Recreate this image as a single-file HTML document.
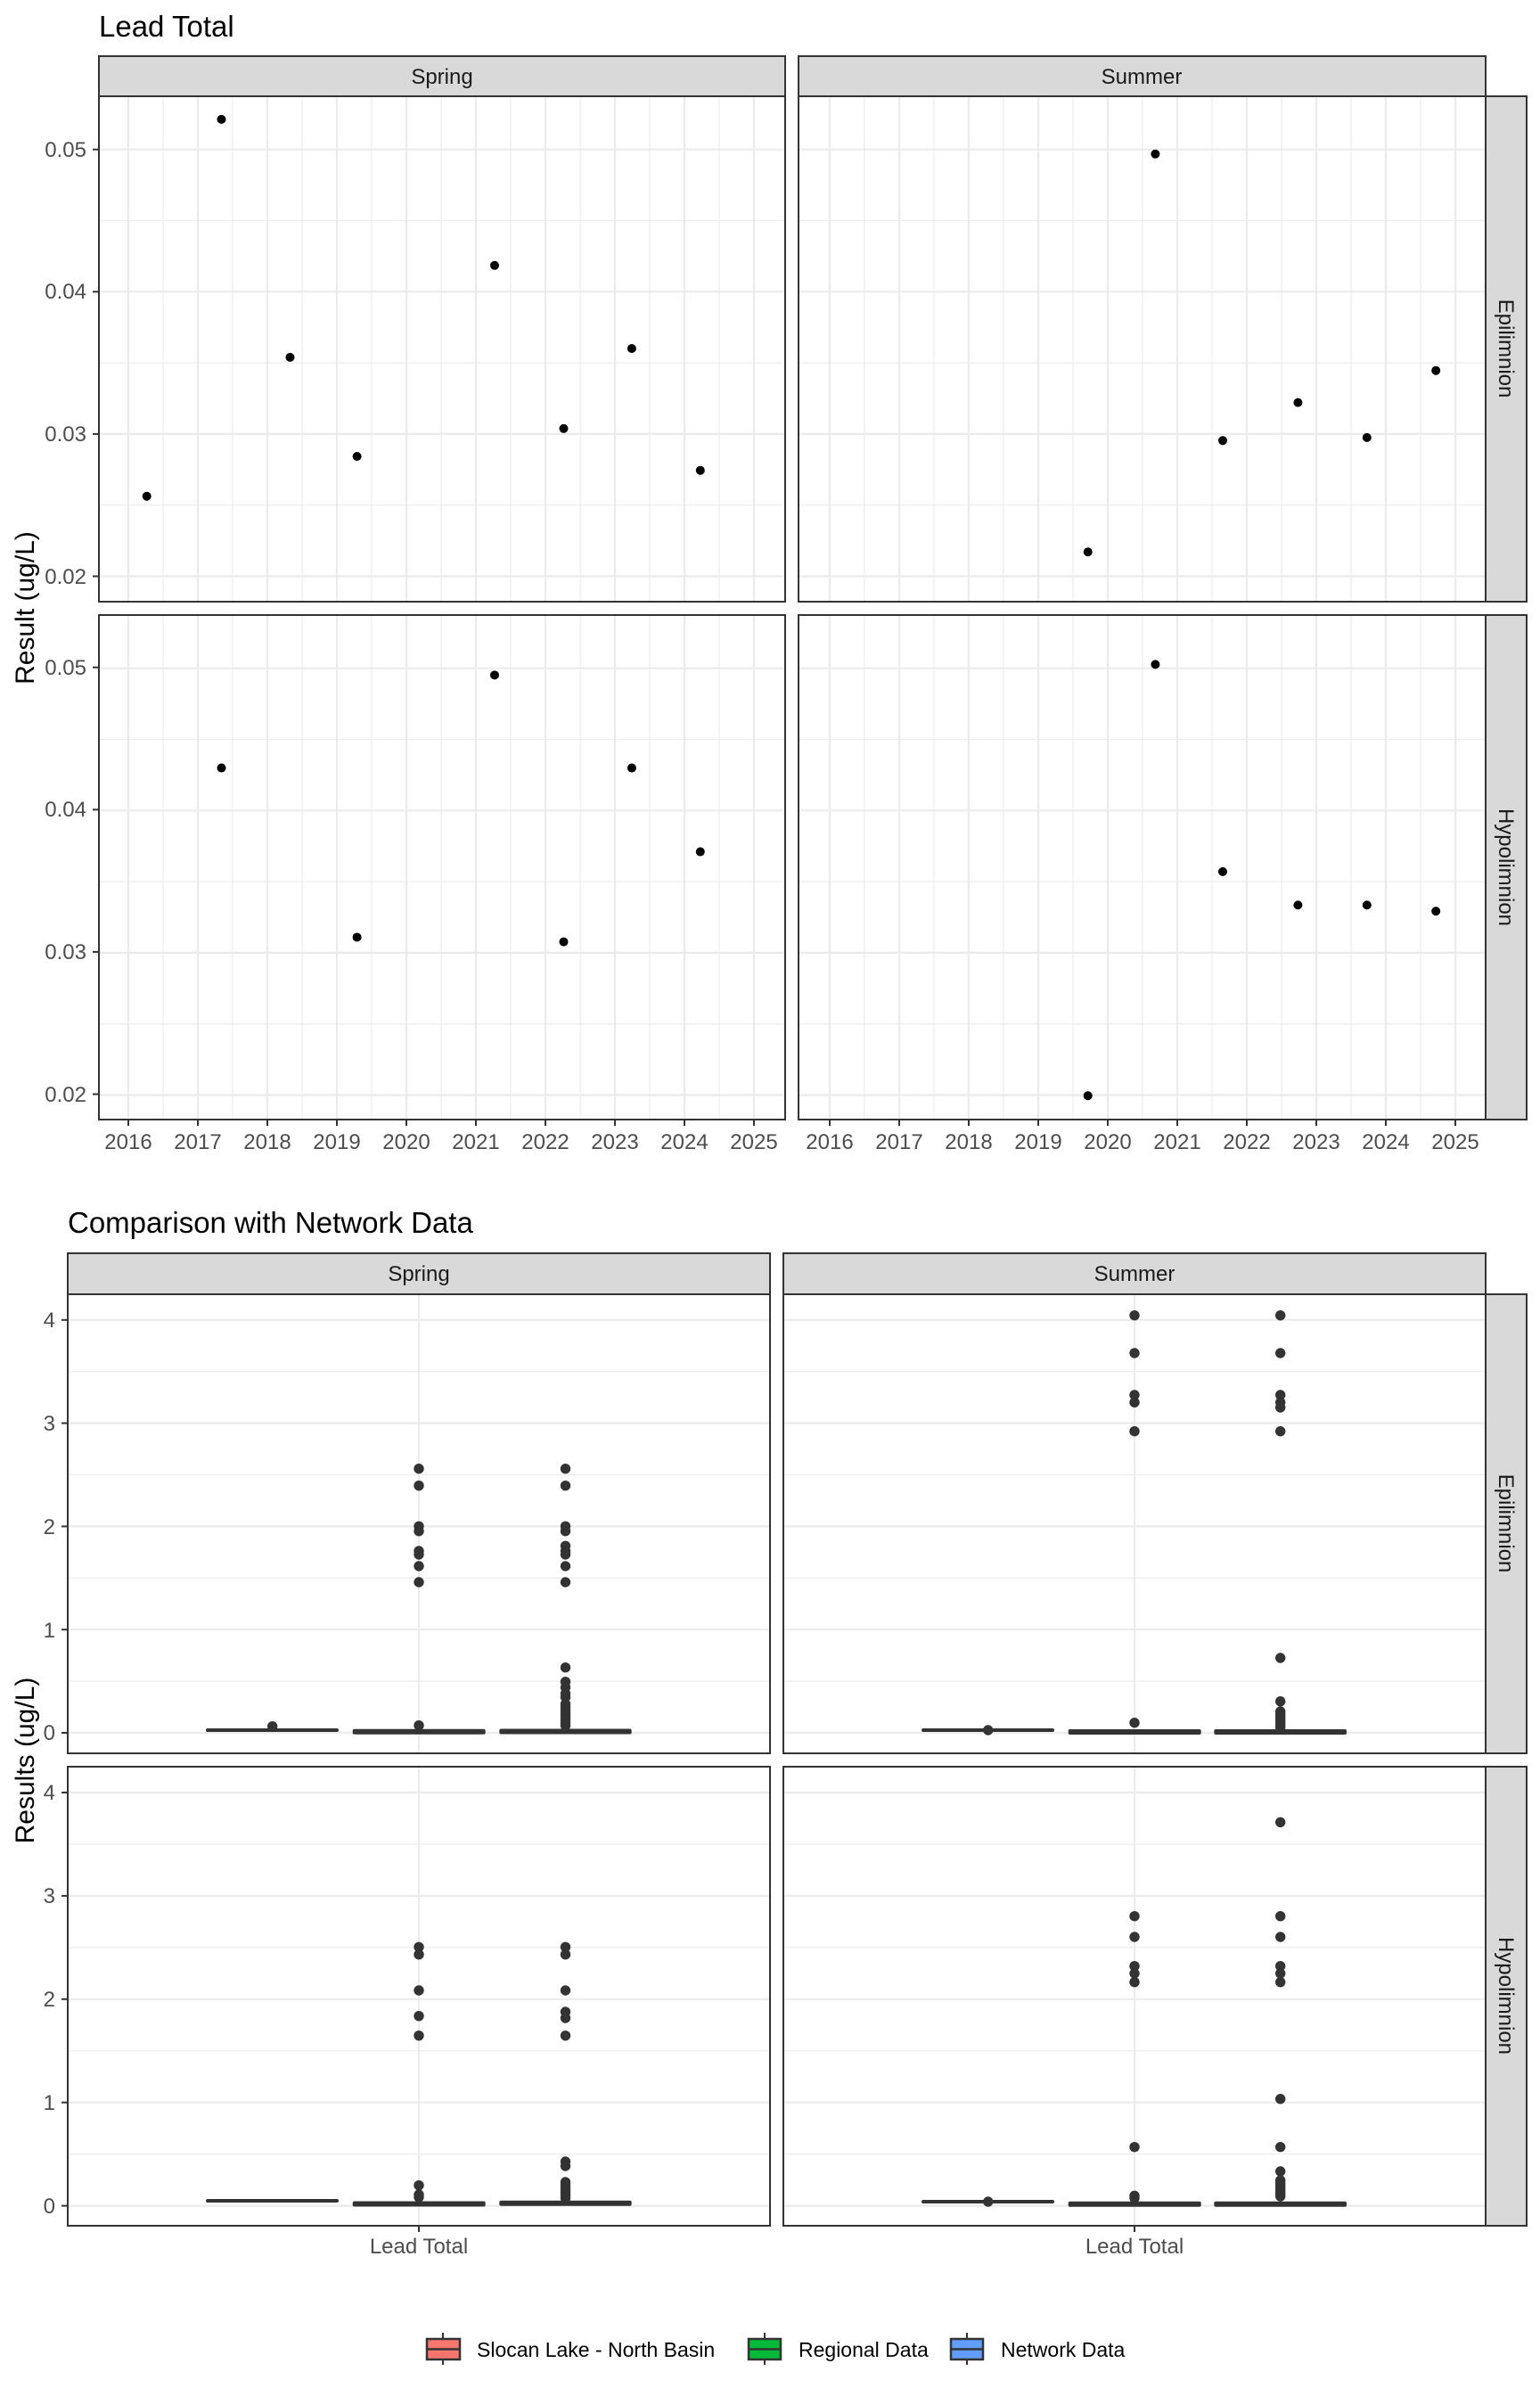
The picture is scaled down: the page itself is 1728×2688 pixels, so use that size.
<!DOCTYPE html>
<html><head><meta charset="utf-8"><style>
html,body{margin:0;padding:0;background:#fff}
svg{display:block}
text{font-family:"Liberation Sans",Arial,sans-serif}
.tk{font-size:24px;fill:#4d4d4d}
.st{font-size:24px;fill:#1a1a1a}
</style></head><body>
<svg id="s" width="1728" height="2688" viewBox="0 0 1728 2688" xmlns="http://www.w3.org/2000/svg">
<rect width="1728" height="2688" fill="#fff"/>
<g id="grid"></g>
<g id="pts"></g>
<g id="frames" fill="none" stroke="#333" stroke-width="2">
<rect x="111" y="108" width="770" height="567"/>
<rect x="896" y="108" width="771" height="567"/>
<rect x="111" y="690" width="770" height="566"/>
<rect x="896" y="690" width="771" height="566"/>
<rect x="76" y="1452" width="788" height="515"/>
<rect x="879" y="1452" width="788" height="515"/>
<rect x="76" y="1982" width="788" height="515"/>
<rect x="879" y="1982" width="788" height="515"/>
</g>
<g fill="#d9d9d9" stroke="#333" stroke-width="2">
<rect x="111" y="63" width="770" height="45"/>
<rect x="896" y="63" width="771" height="45"/>
<rect x="1667" y="108" width="46" height="567"/>
<rect x="1667" y="690" width="46" height="566"/>
<rect x="76" y="1406" width="788" height="46"/>
<rect x="879" y="1406" width="788" height="46"/>
<rect x="1667" y="1452" width="46" height="515"/>
<rect x="1667" y="1982" width="46" height="515"/>
</g>
<g id="ticks" stroke="#333" stroke-width="2"></g>

<text x="111" y="41" font-size="33" fill="#000">Lead Total</text>
<text x="76" y="1383" font-size="33" fill="#000">Comparison with Network Data</text>

<text class="st" x="496" y="94" text-anchor="middle">Spring</text>
<text class="st" x="1281" y="94" text-anchor="middle">Summer</text>
<text class="st" x="470" y="1437" text-anchor="middle">Spring</text>
<text class="st" x="1273" y="1437" text-anchor="middle">Summer</text>
<text class="st" transform="translate(1682,391) rotate(90)" text-anchor="middle">Epilimnion</text>
<text class="st" transform="translate(1682,973) rotate(90)" text-anchor="middle">Hypolimnion</text>
<text class="st" transform="translate(1682,1709) rotate(90)" text-anchor="middle">Epilimnion</text>
<text class="st" transform="translate(1682,2239) rotate(90)" text-anchor="middle">Hypolimnion</text>

<text transform="translate(38,682) rotate(-90)" text-anchor="middle" font-size="30" fill="#000">Result (ug/L)</text>
<text transform="translate(38,1975) rotate(-90)" text-anchor="middle" font-size="30" fill="#000">Results (ug/L)</text>

<g class="tk" text-anchor="end">
<text x="97" y="176">0.05</text><text x="97" y="335">0.04</text><text x="97" y="495">0.03</text><text x="97" y="655">0.02</text>
<text x="97" y="757">0.05</text><text x="97" y="916">0.04</text><text x="97" y="1076">0.03</text><text x="97" y="1236">0.02</text>
<text x="62" y="1489">4</text><text x="62" y="1605">3</text><text x="62" y="1721">2</text><text x="62" y="1837">1</text><text x="62" y="1952">0</text>
<text x="62" y="2019">4</text><text x="62" y="2135">3</text><text x="62" y="2251">2</text><text x="62" y="2367">1</text><text x="62" y="2483">0</text>
</g>
<g class="tk" text-anchor="middle">
<text x="144" y="1289">2016</text><text x="222" y="1289">2017</text><text x="300" y="1289">2018</text><text x="378" y="1289">2019</text><text x="456" y="1289">2020</text><text x="534" y="1289">2021</text><text x="612" y="1289">2022</text><text x="690" y="1289">2023</text><text x="768" y="1289">2024</text><text x="846" y="1289">2025</text>
<text x="931" y="1289">2016</text><text x="1009" y="1289">2017</text><text x="1087" y="1289">2018</text><text x="1165" y="1289">2019</text><text x="1243" y="1289">2020</text><text x="1321" y="1289">2021</text><text x="1399" y="1289">2022</text><text x="1477" y="1289">2023</text><text x="1555" y="1289">2024</text><text x="1633" y="1289">2025</text>
<text x="470" y="2528">Lead Total</text><text x="1273" y="2528">Lead Total</text>
</g>

<g stroke="#333" stroke-width="2">
<line x1="497" y1="2617" x2="497" y2="2653"/><line x1="858" y1="2617" x2="858" y2="2653"/><line x1="1085" y1="2617" x2="1085" y2="2653"/>
</g>
<g stroke="#333" stroke-width="2.5">
<rect x="479" y="2624" width="37" height="23" fill="#F8766D"/>
<rect x="840" y="2624" width="36" height="23" fill="#00BA38"/>
<rect x="1067" y="2624" width="36" height="23" fill="#619CFF"/>
<line x1="479" y1="2635.5" x2="516" y2="2635.5"/><line x1="840" y1="2635.5" x2="876" y2="2635.5"/><line x1="1067" y1="2635.5" x2="1103" y2="2635.5"/>
</g>
<g font-size="23" fill="#000">
<text x="535" y="2644">Slocan Lake - North Basin</text>
<text x="896" y="2644">Regional Data</text>
<text x="1123" y="2644">Network Data</text>
</g>
</svg>
<script>
var NS="http://www.w3.org/2000/svg";
function el(p,t,a){var e=document.createElementNS(NS,t);for(var k in a)e.setAttribute(k,a[k]);p.appendChild(e);return e;}
var G=document.getElementById('grid'),P=document.getElementById('pts'),T=document.getElementById('ticks');
var tops=[[108,675],[690,1256]], lefts=[[111,881,144],[896,1667,931]];
tops.forEach(function(tb){
  var y05=tb[0]+59.7;
  lefts.forEach(function(lr){
    for(var k=0;k<7;k++){var y=y05+k*79.8;var maj=k%2==0;if(y<tb[1])el(G,'line',{x1:lr[0],x2:lr[1],y1:y,y2:y,stroke:'#ebebeb','stroke-width':maj?2.2:1.1});}
    for(var j=0;j<19;j++){var x=lr[2]+j*39;var maj=j%2==0;if(x<lr[1])el(G,'line',{x1:x,x2:x,y1:tb[0],y2:tb[1],stroke:'#ebebeb','stroke-width':maj?2.2:1.1});}
  });
});
[167.7,247.5,327.3,407.1,486.9,566.7,646.5].forEach(function(y,i){if(i%2==0)el(T,'line',{x1:104,x2:111,y1:y,y2:y});});
[748.7,828.5,908.3,988.1,1067.9,1147.7,1227.5].forEach(function(y,i){if(i%2==0)el(T,'line',{x1:104,x2:111,y1:y,y2:y});});
for(var j=0;j<10;j++){el(T,'line',{x1:144+78*j,x2:144+78*j,y1:1256,y2:1263});el(T,'line',{x1:931+78*j,x2:931+78*j,y1:1256,y2:1263});}
[[1452,1967,1944,115.8],[1982,2497,2474.6,115.9]].forEach(function(r){
  [[76,864,470],[879,1667,1273]].forEach(function(lr){
    for(var k=0;k<=9;k++){var y=r[2]-k*r[3]/2;if(y>r[0]&&y<r[1])el(G,'line',{x1:lr[0],x2:lr[1],y1:y,y2:y,stroke:'#ebebeb','stroke-width':k%2==0?2.2:1.1});}
    el(G,'line',{x1:lr[2],x2:lr[2],y1:r[0],y2:r[1],stroke:'#ebebeb','stroke-width':2.2});
  });
  for(var k=0;k<=4;k++){var y=r[2]-k*r[3];el(T,'line',{x1:69,x2:76,y1:y,y2:y});}
});
el(T,'line',{x1:470,x2:470,y1:2497,y2:2504});el(T,'line',{x1:1273,x2:1273,y1:2497,y2:2504});
function ye(v){return 167.7+(0.05-v)*15960;} function yh(v){return 748.7+(0.05-v)*15960;}
var sx=[164.7,248.5,325.5,400.6,555,632.5,708.9,785.8];
var sy=[556.7,133.9,400.9,512,297.8,480.8,391,527.7];
sx.forEach(function(x,i){el(P,'circle',{cx:x,cy:sy[i],r:5,fill:'#000'});});
var ux=[1220.7,1296.4,1372,1456.4,1533.8,1611.2];
[0.02171,0.04968,0.02954,0.03221,0.02975,0.03446].forEach(function(v,i){el(P,'circle',{cx:ux[i],cy:ye(v),r:5,fill:'#000'});});
var hx=[248.5,400.6,555,632.5,708.9,785.8];
[0.04293,0.03103,0.04946,0.03071,0.04293,0.03704].forEach(function(v,i){el(P,'circle',{cx:hx[i],cy:yh(v),r:5,fill:'#000'});});
[0.01989,0.05021,0.03564,0.03329,0.03329,0.03286].forEach(function(v,i){el(P,'circle',{cx:ux[i],cy:yh(v),r:5,fill:'#000'});});
function pt(x,y){el(P,'circle',{cx:x,cy:y,r:5.7,fill:'#333'});}
function dense(x,a,b){for(var y=a;y<=b;y+=3)pt(x,y);}
function bar(x1,x2,y,h){el(P,'rect',{x:x1,y:y-h/2,width:x2-x1,height:h,fill:'#333',rx:2});}
bar(231,380,1941,4);bar(395.7,544.7,1942.7,6);bar(560.3,708.7,1942.5,6);
pt(305.7,1936.7);
[1647.7,1666.7,1712.3,1717.7,1740,1744,1757,1775,1935.7].forEach(function(y){pt(470,y);});
[1647.7,1666.7,1712.3,1717.7,1734.3,1740,1744,1757,1775,1870.7,1886.7,1893,1900,1904,1911.7].forEach(function(y){pt(634.5,y);});
dense(634.5,1915,1938);
bar(1034,1183,1941,4);bar(1198.7,1347.7,1943,6);bar(1362.3,1511,1943,6);
pt(1108.7,1941);
[1475.7,1518,1565,1573.3,1605.7,1932.7].forEach(function(y){pt(1273,y);});
[1475.7,1518,1565,1573.3,1579,1605.7,1860,1908.7].forEach(function(y){pt(1436.7,y);});
dense(1436.7,1920,1940);
bar(231,380,2469,4);bar(395.7,544.7,2472.5,6);bar(560.3,708.7,2471.7,6);
[2184.3,2192.7,2233,2261.7,2283.7,2451.7,2462,2465].forEach(function(y){pt(470,y);});
[2184.3,2192.7,2233,2257,2264,2283.7,2425,2430].forEach(function(y){pt(634.5,y);});
dense(634.5,2448,2466);
bar(1034,1183,2470,4);bar(1198.7,1347.7,2472.7,6);bar(1362.3,1511,2472.7,6);
pt(1108.7,2470);
[2149.7,2173,2205.7,2214,2223.7,2408.7,2463.3,2466].forEach(function(y){pt(1273,y);});
[2044.3,2149.7,2173,2205.7,2214,2223.7,2354.7,2408.7,2436].forEach(function(y){pt(1436.7,y);});
dense(1436.7,2446,2466);
</script>
</body></html>
